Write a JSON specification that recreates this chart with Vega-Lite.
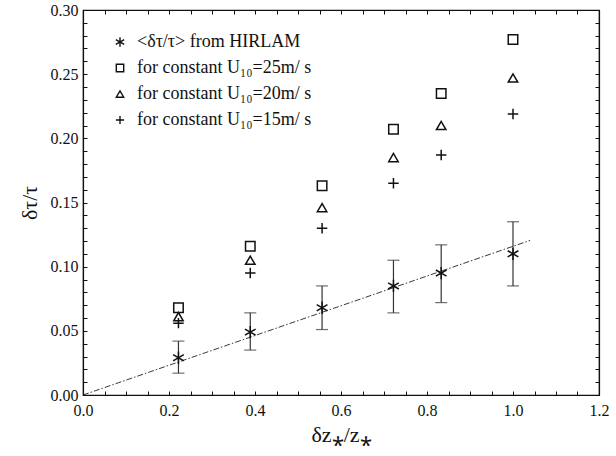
{
  "$schema": "https://vega.github.io/schema/vega-lite/v6.json",
  "width": 516,
  "height": 385,
  "autosize": "none",
  "padding": {"left": 83, "top": 10, "right": 17, "bottom": 61},
  "background": "white",
  "config": {
    "view": {"stroke": "#111", "strokeWidth": 1.2},
    "font": "Liberation Serif",
    "axis": {"labelFont": "Liberation Serif", "titleFont": "Liberation Serif", "labelColor": "#111", "titleColor": "#111", "domainColor": "#111", "tickColor": "#111", "grid": false, "titleFontWeight": "normal", "domainWidth": 1.2, "tickWidth": 1},
    "legend": {"labelFont": "Liberation Serif"}
  },
  "datasets": {
    "pts": [
      {"x": 0.222, "y": 0.029, "series": "<δτ/τ> from HIRLAM", "lo": 0.017, "hi": 0.042},
      {"x": 0.389, "y": 0.049, "series": "<δτ/τ> from HIRLAM", "lo": 0.035, "hi": 0.064},
      {"x": 0.556, "y": 0.068, "series": "<δτ/τ> from HIRLAM", "lo": 0.051, "hi": 0.085},
      {"x": 0.722, "y": 0.085, "series": "<δτ/τ> from HIRLAM", "lo": 0.064, "hi": 0.105},
      {"x": 0.833, "y": 0.095, "series": "<δτ/τ> from HIRLAM", "lo": 0.072, "hi": 0.117},
      {"x": 1.0, "y": 0.110, "series": "<δτ/τ> from HIRLAM", "lo": 0.085, "hi": 0.135},
      {"x": 0.222, "y": 0.068, "series": "for constant U₁₀=25m/ s"},
      {"x": 0.389, "y": 0.116, "series": "for constant U₁₀=25m/ s"},
      {"x": 0.556, "y": 0.163, "series": "for constant U₁₀=25m/ s"},
      {"x": 0.722, "y": 0.207, "series": "for constant U₁₀=25m/ s"},
      {"x": 0.833, "y": 0.235, "series": "for constant U₁₀=25m/ s"},
      {"x": 1.0, "y": 0.277, "series": "for constant U₁₀=25m/ s"},
      {"x": 0.222, "y": 0.061, "series": "for constant U₁₀=20m/ s"},
      {"x": 0.389, "y": 0.105, "series": "for constant U₁₀=20m/ s"},
      {"x": 0.556, "y": 0.146, "series": "for constant U₁₀=20m/ s"},
      {"x": 0.722, "y": 0.185, "series": "for constant U₁₀=20m/ s"},
      {"x": 0.833, "y": 0.210, "series": "for constant U₁₀=20m/ s"},
      {"x": 1.0, "y": 0.247, "series": "for constant U₁₀=20m/ s"},
      {"x": 0.222, "y": 0.056, "series": "for constant U₁₀=15m/ s"},
      {"x": 0.389, "y": 0.095, "series": "for constant U₁₀=15m/ s"},
      {"x": 0.556, "y": 0.130, "series": "for constant U₁₀=15m/ s"},
      {"x": 0.722, "y": 0.165, "series": "for constant U₁₀=15m/ s"},
      {"x": 0.833, "y": 0.187, "series": "for constant U₁₀=15m/ s"},
      {"x": 1.0, "y": 0.219, "series": "for constant U₁₀=15m/ s"}
    ],
    "fit": [
      {"x": 0.0, "y": 0.0},
      {"x": 1.04, "y": 0.1205}
    ]
  },
  "resolve": {"axis": {"x": "independent", "y": "independent"}},
  "layer": [
    {
      "data": {"name": "fit"},
      "mark": {"type": "line", "color": "#222", "strokeWidth": 0.9, "strokeDash": [6, 2, 1.5, 2]},
      "encoding": {
        "x": {"field": "x", "type": "quantitative", "scale": {"domain": [0, 1.2], "nice": false},
          "axis": {"orient": "bottom",
            "values": [0, 0.05, 0.1, 0.15, 0.2, 0.25, 0.3, 0.35, 0.4, 0.45, 0.5, 0.55, 0.6, 0.65, 0.7, 0.75, 0.8, 0.85, 0.9, 0.95, 1.0, 1.05, 1.1, 1.15, 1.2],
            "labelExpr": "abs(datum.value*5 - round(datum.value*5)) < 0.001 ? format(datum.value, '.1f') : ''",
            "tickSize": -4, "tickColor": "#111",
            "labelPadding": 11, "labelFontSize": 16, "labelFlush": false, "labelOverlap": false,
            "title": "δz⁎/z⁎", "titleFontSize": 22, "titlePadding": 6}},
        "y": {"field": "y", "type": "quantitative", "scale": {"domain": [0, 0.3], "nice": false},
          "axis": {"orient": "left",
            "values": [0, 0.01, 0.02, 0.03, 0.04, 0.05, 0.06, 0.07, 0.08, 0.09, 0.1, 0.11, 0.12, 0.13, 0.14, 0.15, 0.16, 0.17, 0.18, 0.19, 0.2, 0.21, 0.22, 0.23, 0.24, 0.25, 0.26, 0.27, 0.28, 0.29, 0.3],
            "labelExpr": "abs(datum.value*20 - round(datum.value*20)) < 0.001 ? format(datum.value, '.2f') : ''",
            "tickSize": -4, "tickColor": "#111",
            "labelPadding": 9, "labelFontSize": 16, "labelFlush": false, "labelOverlap": false,
            "title": "δτ/τ", "titleFontSize": 22, "titlePadding": 9}}
      }
    },
    {
      "data": {"name": "pts"},
      "transform": [{"filter": "isValid(datum.lo)"}],
      "mark": {"type": "rule", "color": "#333", "strokeWidth": 1.2},
      "encoding": {
        "x": {"field": "x", "type": "quantitative",
          "axis": {"orient": "top", "domainColor": "#111", "tickColor": "#111",
            "values": [0, 0.05, 0.1, 0.15, 0.2, 0.25, 0.3, 0.35, 0.4, 0.45, 0.5, 0.55, 0.6, 0.65, 0.7, 0.75, 0.8, 0.85, 0.9, 0.95, 1.0, 1.05, 1.1, 1.15, 1.2],
            "labels": false,
            "tickSize": -4,
            "title": null}},
        "y": {"field": "lo", "type": "quantitative",
          "axis": {"orient": "right", "domainColor": "#111", "tickColor": "#111",
            "values": [0, 0.01, 0.02, 0.03, 0.04, 0.05, 0.06, 0.07, 0.08, 0.09, 0.1, 0.11, 0.12, 0.13, 0.14, 0.15, 0.16, 0.17, 0.18, 0.19, 0.2, 0.21, 0.22, 0.23, 0.24, 0.25, 0.26, 0.27, 0.28, 0.29, 0.3],
            "labels": false,
            "tickSize": -4,
            "title": null}},
        "y2": {"field": "hi"}
      }
    },
    {
      "data": {"name": "pts"},
      "transform": [{"filter": "isValid(datum.lo)"}],
      "mark": {"type": "tick", "orient": "horizontal", "color": "#333", "size": 12, "thickness": 1.2},
      "encoding": {
        "x": {"field": "x", "type": "quantitative", "axis": null},
        "y": {"field": "lo", "type": "quantitative", "axis": null}
      }
    },
    {
      "data": {"name": "pts"},
      "transform": [{"filter": "isValid(datum.hi)"}],
      "mark": {"type": "tick", "orient": "horizontal", "color": "#333", "size": 12, "thickness": 1.2},
      "encoding": {
        "x": {"field": "x", "type": "quantitative", "axis": null},
        "y": {"field": "hi", "type": "quantitative", "axis": null}
      }
    },
    {
      "data": {"name": "pts"},
      "mark": {"type": "point", "filled": false, "color": "#111", "strokeWidth": 1.5, "opacity": 1, "size": 90},
      "encoding": {
        "x": {"field": "x", "type": "quantitative", "axis": null},
        "y": {"field": "y", "type": "quantitative", "axis": null},
        "shape": {"field": "series", "type": "nominal",
          "scale": {"domain": ["<δτ/τ> from HIRLAM", "for constant U₁₀=25m/ s", "for constant U₁₀=20m/ s", "for constant U₁₀=15m/ s"],
            "range": ["M0,-1.3L0,1.3M-1.13,-0.65L1.13,0.65M-1.13,0.65L1.13,-0.65", "square", "triangle-up", "M-1.1,0L1.1,0M0,-1.1L0,1.1"]},
          "legend": {"orient": "none", "legendX": 28, "legendY": 23, "title": null, "labelFontSize": 18, "labelColor": "#111", "rowPadding": 8, "symbolSize": 55, "symbolStrokeWidth": 1.4, "symbolStrokeColor": "#111", "labelOffset": 8, "labelLimit": 300}}
      }
    }
  ]
}
